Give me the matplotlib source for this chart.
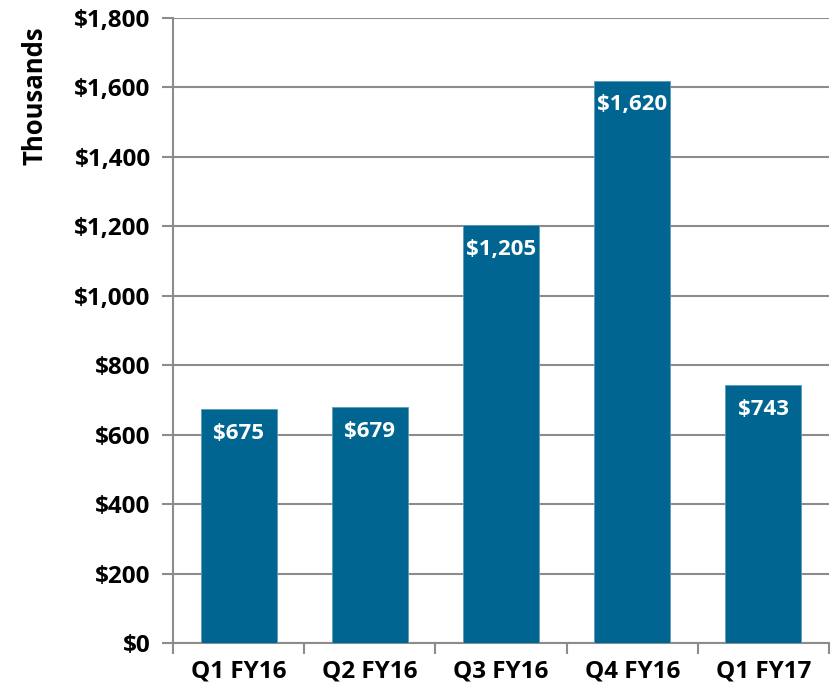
import matplotlib
matplotlib.use('Agg')
import matplotlib.pyplot as plt
from matplotlib.ticker import FuncFormatter

plt.rcParams['font.family'] = ['Open Sans', 'DejaVu Sans']

quarters = ['Q1 FY16', 'Q2 FY16', 'Q3 FY16', 'Q4 FY16', 'Q1 FY17']
values = [675, 679, 1205, 1620, 743]

bar_color = '#006691'
grid_color = '#8c8c8c'

fig = plt.figure(figsize=(8.34, 6.94), dpi=100)
ax = fig.add_axes([0.2074, 0.0735, 0.7866, 0.9005])

x = range(len(quarters))
bars = ax.bar(x, values, width=0.58, color=bar_color, edgecolor='#5b9bbb',
              linewidth=0.6, zorder=3)

for b, v in zip(bars, values):
    ax.text(b.get_x() + b.get_width() / 2, v - 40, '${:,}'.format(v),
            ha='center', va='top', color='white', fontsize=16,
            fontweight='bold', zorder=4)

ax.set_xlim(-0.5, len(quarters) - 0.5)
ax.set_ylim(0, 1800)
ax.set_yticks(range(0, 1801, 200))
ax.yaxis.set_major_formatter(FuncFormatter(lambda v, p: '${:,.0f}'.format(v)))
ax.yaxis.grid(True, color=grid_color, linewidth=1.5, zorder=0)
ax.set_axisbelow(True)

ax.set_xticks([i - 0.5 for i in range(len(quarters) + 1)])
ax.set_xticklabels([])
ax.set_xticks(list(x), minor=True)
ax.set_xticklabels(quarters, minor=True)
ax.tick_params(axis='x', which='minor', length=0, pad=12)
ax.tick_params(axis='x', which='major', length=8, width=1.5, color=grid_color)
ax.tick_params(axis='y', length=8, width=1.5, color=grid_color, pad=8)

for lab in ax.get_yticklabels() + ax.get_xticklabels(minor=True):
    lab.set_fontsize(17.5)
    lab.set_fontweight('bold')

for s in ['top', 'right']:
    ax.spines[s].set_visible(False)
for s in ['left', 'bottom']:
    ax.spines[s].set_color(grid_color)
    ax.spines[s].set_linewidth(1.5)

ax.set_ylabel('Thousands', fontsize=18.5, fontweight='bold')
ax.yaxis.set_label_coords(-0.19, 0.875)

fig.savefig('out.png', dpi=100)
